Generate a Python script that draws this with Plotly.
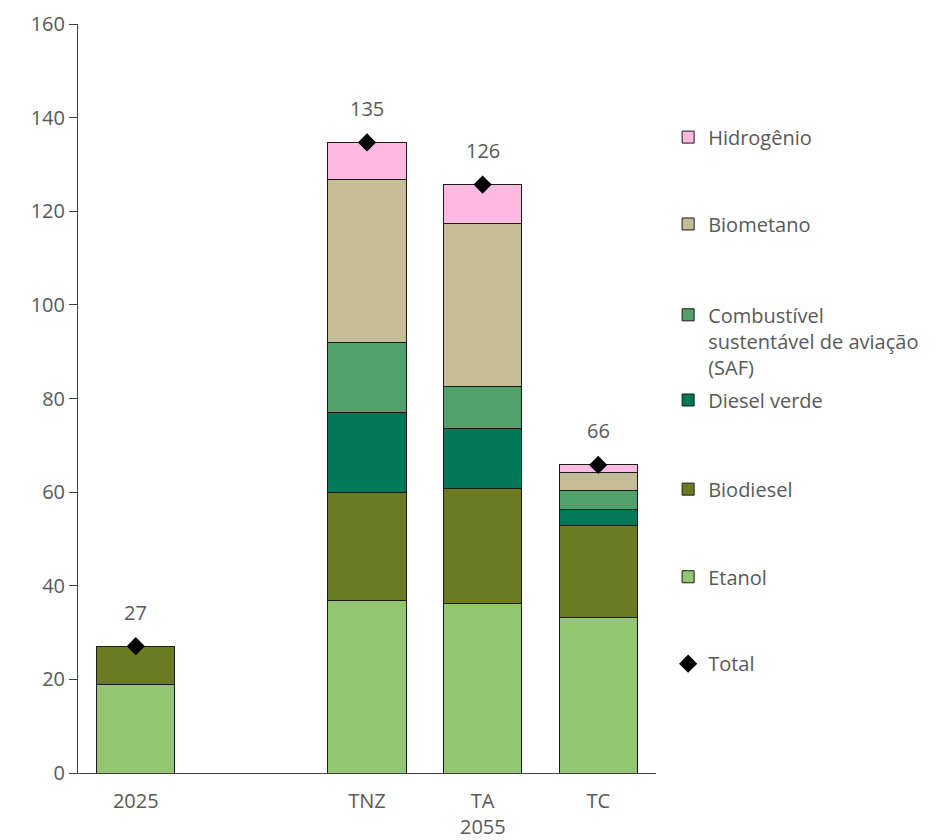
import plotly.graph_objects as go

categories = ["2025", " ", "TNZ", "TA", "TC"]
group_label = "2055"
group_label_at = "TA"

etanol = [18.8, None, 36.8, 36.2, 33.3]
biodiesel = [8.3, None, 23.2, 24.6, 19.6]
diesel_verde = [0.0, None, 17.1, 12.7, 3.4]
saf = [0.0, None, 14.8, 9.0, 4.1]
biometano = [0.0, None, 34.8, 34.8, 3.7]
hidrogenio = [0.0, None, 8.0, 8.4, 1.7]

series = [
    ("Etanol", etanol, "#93C572"),
    ("Biodiesel", biodiesel, "#6B7B22"),
    ("Diesel verde", diesel_verde, "#007857"),
    ("Combustível<br>sustentável de aviação<br>(SAF)", saf, "#52A06C"),
    ("Biometano", biometano, "#C4BD97"),
    ("Hidrogênio", hidrogenio, "#FDB9DF"),
]

totals = []
for i in range(len(categories)):
    vals = [s[1][i] for s in series]
    totals.append(None if vals[0] is None else round(sum(v for v in vals if v is not None), 1))

FONT = "Open Sans"
GREY = "#595959"
FS = 20

# legend vertical centres (paper fraction) for each entry
legend_y = {
    "Hidrogênio": 0.849,
    "Biometano": 0.733,
    "Combustível<br>sustentável de aviação<br>(SAF)": 0.577,
    "Diesel verde": 0.498,
    "Biodiesel": 0.379,
    "Etanol": 0.262,
    "Total": 0.146,
}
legend_ids = {}
for k, name in enumerate(legend_y):
    legend_ids[name] = "legend" if k == 0 else f"legend{k+1}"

fig = go.Figure()
for name, vals, color in series:
    fig.add_trace(go.Bar(
        x=categories, y=vals, name=name,
        marker=dict(color=color, line=dict(color="#1a1a1a", width=1)),
        legend=legend_ids[name], hoverinfo="skip",
    ))

fig.add_trace(go.Scatter(
    x=categories, y=totals, name="Total", mode="markers",
    marker=dict(symbol="diamond", size=14, color="black"),
    legend=legend_ids["Total"], hoverinfo="skip",
))

for idx, t in enumerate(totals):
    if t is None:
        continue
    fig.add_annotation(x=idx, y=t, text=f"{t:.0f}", showarrow=False,
                       yshift=34, font=dict(family=FONT, size=FS, color=GREY))

fig.add_annotation(x=categories.index(group_label_at), xref="x", y=0, yref="paper",
                   text=group_label, showarrow=False, yanchor="middle", yshift=-53,
                   font=dict(family=FONT, size=FS, color=GREY))

layout_legends = {}
for name, yv in legend_y.items():
    lid = legend_ids[name]
    layout_legends[lid] = dict(
        x=1.021, y=yv, xanchor="left", yanchor="middle",
        font=dict(family=FONT, size=FS, color=GREY),
        bgcolor="rgba(0,0,0,0)", valign="top",
        itemclick=False, itemdoubleclick=False,
    )

fig.update_layout(
    width=928, height=832,
    margin=dict(l=70, r=280, t=16, b=67, autoexpand=False),
    plot_bgcolor="white", paper_bgcolor="white",
    barmode="stack", bargap=0.325,
    showlegend=True,
    font=dict(family=FONT, size=FS, color=GREY),
    **layout_legends,
)
fig.update_xaxes(
    type="category", categoryorder="array", categoryarray=categories,
    range=[-0.5, 4.5], showline=True, linecolor="#404040", linewidth=1,
    ticks="", showgrid=False, tickfont=dict(family=FONT, size=FS, color=GREY),
    ticklabelstandoff=10, automargin=False,
)
fig.update_yaxes(
    range=[0, 160], dtick=20, showline=True, linecolor="#404040", linewidth=1,
    ticks="outside", ticklen=8, tickcolor="#404040", showgrid=False, zeroline=False,
    tickfont=dict(family=FONT, size=FS, color=GREY), automargin=False,
)

fig.write_html("out.html")
